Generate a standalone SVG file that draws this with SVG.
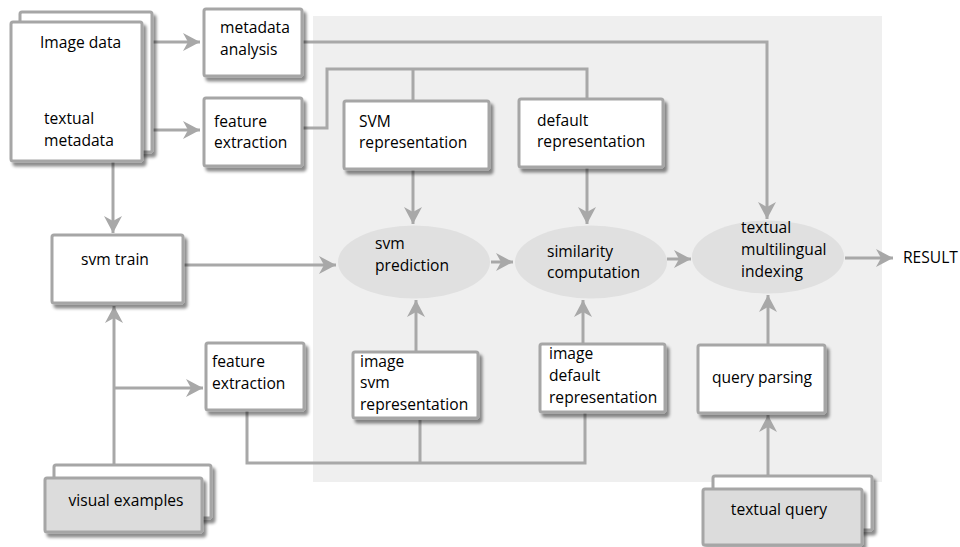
<svg xmlns="http://www.w3.org/2000/svg" width="960" height="547" viewBox="0 0 960 547">
<defs>
<filter id="sh" x="-10%" y="-10%" width="130%" height="140%">
<feDropShadow dx="3" dy="4" stdDeviation="1.5" flood-color="#000" flood-opacity="0.45"/>
</filter>
<marker id="ah" markerUnits="userSpaceOnUse" markerWidth="20" markerHeight="20" viewBox="-18 -10 20 20" refX="0" refY="0" orient="auto">
<path d="M-17,-9 L0,0 L-17,9 L-12,0 Z" fill="#a8a8a8"/>
</marker>
<style>
.bx{fill:#fff;stroke:#a6a6a6;stroke-width:3;filter:url(#sh)}
.gx{fill:#dcdcdc;stroke:#a6a6a6;stroke-width:3;filter:url(#sh)}
.el{fill:#e0e0e0}
.t{font-family:"Open Sans","Noto Sans","Liberation Sans",sans-serif;font-size:15.6px;fill:#000}
.c{fill:none;stroke:#a8a8a8;stroke-width:3}
.a{marker-end:url(#ah)}
</style>
</defs>
<rect x="313" y="16" width="569" height="466" fill="#efefef"/>
<g id="connectors">
<path class="c a" d="M153,42 H200"/>
<path class="c a" d="M153,130 H200"/>
<path class="c a" d="M113,162 V233"/>
<path class="c a" d="M302,42 H767 V219"/>
<path class="c" d="M302,128 H327 V69 H587 V99 M413,69 V101"/>
<path class="c a" d="M413,169 V224"/>
<path class="c a" d="M587,167 V224"/>
<path class="c a" d="M183,265 H336"/>
<path class="c a" d="M491,262 H513"/>
<path class="c a" d="M667,259 H691"/>
<path class="c a" d="M845,258 H893"/>
<path class="c a" d="M416,352 V300"/>
<path class="c a" d="M583,344 V300"/>
<path class="c a" d="M768,345 V295"/>
<path class="c a" d="M768,476 V415"/>
<path class="c a" d="M114,465 V306"/>
<path class="c a" d="M114,388 H203"/>
<path class="c" d="M247,410 V463 H585 V413 M420,463 V420"/>
</g>
<g id="image-data">
<rect class="bx" x="20" y="12" width="132" height="140" rx="2"/>
<rect class="bx" x="11" y="22" width="131" height="139" rx="2"/>
<text class="t" x="40" y="48">Image data</text>
<text class="t" x="44" y="124">textual</text>
<text class="t" x="44" y="146">metadata</text>
</g>
<g id="metadata-analysis">
<rect class="bx" x="204" y="9" width="98" height="67" rx="2"/>
<text class="t" x="220" y="33">metadata</text>
<text class="t" x="220" y="55">analysis</text>
</g>
<g id="feature-extraction-1">
<rect class="bx" x="204" y="98" width="98" height="68" rx="2"/>
<text class="t" x="214" y="127">feature</text>
<text class="t" x="214" y="148">extraction</text>
</g>
<g id="svm-representation">
<rect class="bx" x="344" y="101" width="145" height="68" rx="2"/>
<text class="t" x="359" y="127">SVM</text>
<text class="t" x="359" y="148">representation</text>
</g>
<g id="default-representation">
<rect class="bx" x="519" y="99" width="144" height="68" rx="2"/>
<text class="t" x="537" y="126">default</text>
<text class="t" x="537" y="147">representation</text>
</g>
<g id="svm-train">
<rect class="bx" x="52" y="235" width="131" height="68" rx="2"/>
<text class="t" x="115" y="265" text-anchor="middle">svm train</text>
</g>
<g id="svm-prediction">
<ellipse class="el" cx="414" cy="262" rx="76" ry="36.5"/>
<text class="t" x="375" y="249">svm</text>
<text class="t" x="375" y="271">prediction</text>
</g>
<g id="similarity-computation">
<ellipse class="el" cx="591" cy="262" rx="76" ry="36.5"/>
<text class="t" x="547" y="257">similarity</text>
<text class="t" x="547" y="278">computation</text>
</g>
<g id="textual-multilingual-indexing">
<ellipse class="el" cx="768" cy="257" rx="76" ry="36.5"/>
<text class="t" x="741" y="233">textual</text>
<text class="t" x="741" y="255">multilingual</text>
<text class="t" x="741" y="277">indexing</text>
</g>
<g id="result">
<text class="t" x="903" y="263">RESULT</text>
</g>
<g id="feature-extraction-2">
<rect class="bx" x="206" y="343" width="98" height="67" rx="2"/>
<text class="t" x="212" y="367">feature</text>
<text class="t" x="212" y="389">extraction</text>
</g>
<g id="image-svm-representation">
<rect class="bx" x="353" y="352" width="125" height="66" rx="2"/>
<text class="t" x="360" y="367">image</text>
<text class="t" x="360" y="388">svm</text>
<text class="t" x="360" y="410">representation</text>
</g>
<g id="image-default-representation">
<rect class="bx" x="540" y="344" width="125" height="68" rx="2"/>
<text class="t" x="549" y="359">image</text>
<text class="t" x="549" y="381">default</text>
<text class="t" x="549" y="403">representation</text>
</g>
<g id="query-parsing">
<rect class="bx" x="698" y="345" width="127" height="68" rx="2"/>
<text class="t" x="762" y="383" text-anchor="middle">query parsing</text>
</g>
<g id="visual-examples">
<rect class="bx" x="54" y="465" width="157" height="53" rx="2"/>
<rect class="gx" x="45" y="478" width="157" height="54" rx="2"/>
<text class="t" x="126" y="506" text-anchor="middle">visual examples</text>
</g>
<g id="textual-query">
<rect class="bx" x="713" y="476" width="159" height="54" rx="2"/>
<rect class="gx" x="703" y="489" width="159" height="56" rx="2"/>
<text class="t" x="779" y="515" text-anchor="middle">textual query</text>
</g>
</svg>
